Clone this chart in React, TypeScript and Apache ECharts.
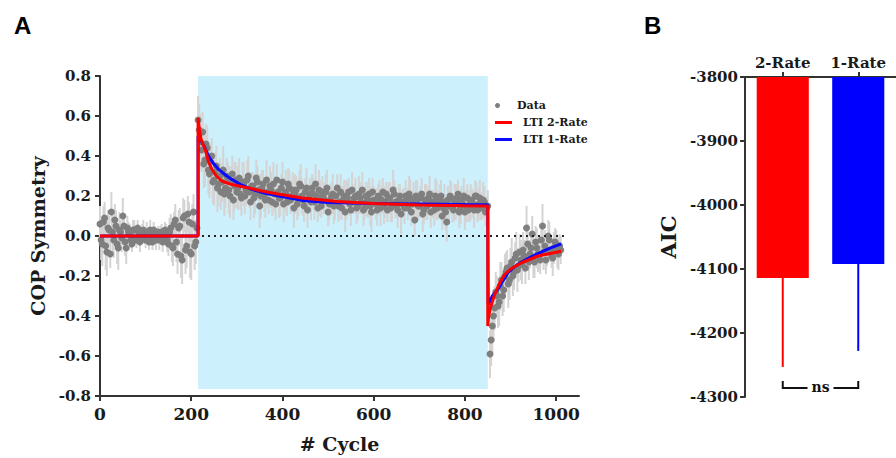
import React, { useEffect, useRef } from 'react';
import * as echarts from 'echarts';

// ---------------- Panel A data ----------------
const CYCLE_STEP = 5;
const HALF_STEP = 2.5;

const BASELINE_START = 0;
const BASELINE_VALUES = [
  0.06, -0.04, 0.09, -0.08, 0.03, 0.12, -0.02, 0.05, -0.06, 0.02,
  0.10, -0.03, 0.04, 0.01, -0.04, 0.03, -0.02, 0.02, 0.00, 0.03,
  -0.02, 0.01, 0.03, -0.03, 0.02, 0.00, -0.02, 0.02, -0.01, 0.01,
  -0.04, 0.04, -0.06, 0.08, -0.09, 0.05, -0.12, 0.10, -0.05, 0.07,
  -0.09, 0.12, -0.03,
];
const BASELINE_ERR = [
  0.09, 0.11, 0.08, 0.12, 0.07, 0.10, 0.09, 0.08, 0.11, 0.06,
  0.09, 0.07, 0.06, 0.05, 0.04, 0.05, 0.04, 0.03, 0.04, 0.05,
  0.04, 0.03, 0.05, 0.04, 0.03, 0.04, 0.05, 0.04, 0.03, 0.05,
  0.06, 0.07, 0.09, 0.08, 0.10, 0.09, 0.12, 0.08, 0.11, 0.10,
  0.13, 0.09, 0.11,
];
// interleaved cycles (start + 2.5)
const BASELINE_VALUES_B = [
  -0.02, 0.07, -0.05, 0.04, -0.09, 0.02, 0.08, -0.04, 0.03, -0.01,
  0.05, -0.06, 0.02, -0.02, 0.03, -0.01, 0.04, -0.03, 0.02, -0.01,
  0.02, -0.03, 0.00, 0.03, -0.02, 0.02, 0.01, -0.03, 0.03, -0.02,
  0.02, -0.05, 0.06, -0.03, 0.04, -0.10, 0.09, -0.07, 0.11, -0.08,
  0.06, -0.05, 0.04,
];
const BASELINE_ERR_B = [
  0.10, 0.08, 0.12, 0.09, 0.07, 0.11, 0.08, 0.10, 0.09, 0.07,
  0.06, 0.08, 0.05, 0.04, 0.05, 0.03, 0.04, 0.05, 0.04, 0.03,
  0.05, 0.04, 0.03, 0.04, 0.05, 0.03, 0.04, 0.05, 0.04, 0.06,
  0.07, 0.08, 0.06, 0.10, 0.09, 0.11, 0.10, 0.12, 0.09, 0.13,
  0.10, 0.12, 0.08,
];

const ADAPT_START = 215;
const ADAPT_VALUES = [
  0.58, 0.47, 0.52, 0.38, 0.44, 0.31, 0.40, 0.28, 0.35, 0.26,
  0.22, 0.33, 0.24, 0.29, 0.20, 0.31, 0.25, 0.22, 0.29, 0.19,
  0.26, 0.23, 0.30, 0.17, 0.25, 0.21, 0.27, 0.15, 0.24, 0.20,
  0.28, 0.18, 0.23, 0.26, 0.16, 0.22, 0.19, 0.27, 0.21, 0.17,
  0.24, 0.20, 0.14, 0.23, 0.19, 0.25, 0.18, 0.22, 0.13, 0.21,
  0.24, 0.17, 0.20, 0.23, 0.15, 0.19, 0.22, 0.12, 0.18, 0.21,
  0.16, 0.24, 0.17, 0.14, 0.20, 0.18, 0.22, 0.13, 0.17, 0.20,
  0.15, 0.19, 0.23, 0.14, 0.17, 0.21, 0.12, 0.18, 0.16, 0.20,
  0.14, 0.22, 0.17, 0.13, 0.19, 0.16, 0.21, 0.15, 0.18, 0.11,
  0.17, 0.20, 0.14, 0.19, 0.16, 0.08, 0.18, 0.15, 0.21, 0.13,
  0.17, 0.19, 0.12, 0.16, 0.20, 0.14, 0.18, 0.10, 0.17, 0.07,
  0.15, 0.19, 0.13, 0.17, 0.21, 0.14, 0.16, 0.12, 0.19, 0.15,
  0.18, 0.13, 0.20, 0.16, 0.14, 0.18, 0.12, 0.15,
];
const ADAPT_ERR = [
  0.12, 0.14, 0.10, 0.13, 0.11, 0.12, 0.09, 0.13, 0.10, 0.11,
  0.09, 0.12, 0.10, 0.08, 0.11, 0.09, 0.12, 0.08, 0.10, 0.09,
  0.11, 0.08, 0.10, 0.09, 0.07, 0.10, 0.08, 0.11, 0.09, 0.08,
  0.10, 0.07, 0.09, 0.11, 0.08, 0.07, 0.09, 0.10, 0.08, 0.07,
  0.09, 0.08, 0.10, 0.07, 0.09, 0.11, 0.08, 0.07, 0.09, 0.08,
  0.07, 0.09, 0.08, 0.10, 0.06, 0.08, 0.09, 0.07, 0.08, 0.10,
  0.08, 0.07, 0.09, 0.06, 0.08, 0.10, 0.07, 0.08, 0.06, 0.09,
  0.07, 0.08, 0.09, 0.06, 0.07, 0.08, 0.10, 0.07, 0.08, 0.06,
  0.09, 0.07, 0.08, 0.06, 0.08, 0.09, 0.07, 0.06, 0.08, 0.10,
  0.07, 0.08, 0.06, 0.09, 0.07, 0.08, 0.10, 0.06, 0.08, 0.07,
  0.09, 0.06, 0.08, 0.07, 0.09, 0.06, 0.08, 0.07, 0.09, 0.10,
  0.07, 0.08, 0.06, 0.09, 0.07, 0.08, 0.06, 0.09, 0.07, 0.08,
  0.06, 0.09, 0.07, 0.08, 0.06, 0.09, 0.07, 0.08,
];
const ADAPT_VALUES_B = [
  0.53, 0.43, 0.36, 0.46, 0.33, 0.37, 0.27, 0.32, 0.24, 0.30,
  0.27, 0.21, 0.30, 0.23, 0.27, 0.18, 0.28, 0.24, 0.21, 0.27,
  0.20, 0.28, 0.22, 0.25, 0.19, 0.29, 0.23, 0.20, 0.26, 0.18,
  0.22, 0.25, 0.17, 0.21, 0.28, 0.19, 0.24, 0.16, 0.22, 0.26,
  0.18, 0.23, 0.21, 0.16, 0.26, 0.20, 0.15, 0.24, 0.19, 0.17,
  0.21, 0.26, 0.14, 0.19, 0.22, 0.18, 0.24, 0.16, 0.20, 0.15,
  0.20, 0.15, 0.22, 0.18, 0.12, 0.19, 0.16, 0.23, 0.19, 0.14,
  0.21, 0.17, 0.13, 0.20, 0.18, 0.15, 0.22, 0.17, 0.13, 0.19,
  0.18, 0.15, 0.21, 0.19, 0.14, 0.23, 0.17, 0.13, 0.20, 0.16,
  0.14, 0.18, 0.21, 0.12, 0.17, 0.20, 0.15, 0.19, 0.11, 0.18,
  0.15, 0.21, 0.17, 0.13, 0.18, 0.16, 0.20, 0.14, 0.12, 0.18,
  0.20, 0.14, 0.17, 0.19, 0.12, 0.18, 0.20, 0.15, 0.13, 0.17,
  0.16, 0.20, 0.13, 0.19, 0.15, 0.17, 0.14,
];
const ADAPT_ERR_B = [
  0.13, 0.11, 0.12, 0.10, 0.12, 0.09, 0.11, 0.10, 0.12, 0.09,
  0.10, 0.11, 0.09, 0.12, 0.08, 0.10, 0.09, 0.11, 0.08, 0.10,
  0.09, 0.10, 0.08, 0.07, 0.10, 0.09, 0.08, 0.11, 0.07, 0.09,
  0.08, 0.10, 0.07, 0.09, 0.08, 0.10, 0.07, 0.09, 0.11, 0.08,
  0.07, 0.09, 0.10, 0.08, 0.07, 0.09, 0.08, 0.10, 0.07, 0.09,
  0.08, 0.10, 0.07, 0.09, 0.08, 0.06, 0.09, 0.08, 0.07, 0.09,
  0.06, 0.08, 0.09, 0.07, 0.10, 0.08, 0.06, 0.09, 0.07, 0.08,
  0.09, 0.06, 0.08, 0.07, 0.09, 0.10, 0.07, 0.06, 0.08, 0.09,
  0.07, 0.09, 0.06, 0.08, 0.07, 0.10, 0.08, 0.09, 0.06, 0.07,
  0.08, 0.06, 0.09, 0.07, 0.10, 0.08, 0.07, 0.06, 0.09, 0.08,
  0.07, 0.09, 0.06, 0.08, 0.10, 0.07, 0.08, 0.06, 0.09, 0.07,
  0.08, 0.07, 0.09, 0.06, 0.08, 0.07, 0.09, 0.08, 0.06, 0.09,
  0.07, 0.08, 0.06, 0.09, 0.07, 0.08, 0.06,
];

const POST_START = 855;
const POST_VALUES = [
  -0.59, -0.45, -0.36, -0.30, -0.33, -0.22, -0.27, -0.18, -0.24, -0.15,
  -0.20, -0.11, -0.17, -0.08, -0.14, -0.10, 0.04, -0.13, -0.06, -0.11,
  -0.03, -0.09, -0.12, 0.05, -0.05, -0.08, -0.02, -0.10, -0.06, -0.04,
  -0.09, -0.07,
];
const POST_ERR = [
  0.12, 0.13, 0.11, 0.10, 0.12, 0.09, 0.11, 0.10, 0.12, 0.09,
  0.10, 0.08, 0.11, 0.09, 0.10, 0.08, 0.11, 0.09, 0.07, 0.10,
  0.08, 0.09, 0.07, 0.11, 0.08, 0.07, 0.09, 0.06, 0.08, 0.07,
  0.08, 0.07,
];
const POST_VALUES_B = [
  -0.52, -0.40, -0.28, -0.35, -0.25, -0.30, -0.20, -0.16, -0.22, -0.13,
  -0.18, -0.09, -0.15, -0.12, -0.07, -0.16, -0.04, -0.09, 0.01, -0.13,
  -0.06, -0.10, -0.02, -0.08, -0.12, 0.00, -0.07, -0.11, -0.03, -0.08,
  -0.05,
];
const POST_ERR_B = [
  0.13, 0.12, 0.10, 0.11, 0.12, 0.10, 0.11, 0.09, 0.10, 0.12,
  0.09, 0.11, 0.08, 0.10, 0.09, 0.08, 0.10, 0.07, 0.09, 0.08,
  0.10, 0.07, 0.08, 0.09, 0.07, 0.08, 0.06, 0.09, 0.07, 0.08,
  0.06,
];

// Model fits: [cycle, COP symmetry]
const FIT_2RATE: [number, number][] = [
  [0, 0], [215, 0], [215, 0.59], [218, 0.53], [222, 0.48], [231, 0.43], [238, 0.37],
  [245, 0.335], [255, 0.30], [267, 0.275], [285, 0.26], [304, 0.25], [330, 0.238],
  [355, 0.225], [390, 0.21], [443, 0.19], [520, 0.172], [600, 0.162], [700, 0.155],
  [800, 0.151], [850, 0.15], [850, -0.45], [852, -0.40], [857, -0.35], [864, -0.30],
  [875, -0.24], [886, -0.195], [900, -0.165], [923, -0.135], [960, -0.10], [1011, -0.076],
];
const FIT_1RATE: [number, number][] = [
  [0, 0], [215, 0], [215, 0.50], [218, 0.49], [228, 0.45], [238, 0.40], [248, 0.365],
  [260, 0.333], [275, 0.305], [289, 0.283], [310, 0.255], [333, 0.233], [360, 0.215],
  [392, 0.20], [443, 0.178], [500, 0.168], [600, 0.163], [700, 0.160], [800, 0.157],
  [850, 0.156], [851, -0.343], [860, -0.30], [872, -0.268], [883, -0.225], [894, -0.185],
  [908, -0.155], [923, -0.131], [940, -0.11], [960, -0.088], [985, -0.062], [1011, -0.039],
];

const PERTURB_START = 215;
const PERTURB_END = 850;
const PERTURB_BOTTOM = -0.765;
const PERTURB_TOP = 0.8;
const ZERO_LINE_END = 1025;

const X_TICKS = [0, 200, 400, 600, 800, 1000];

// ---------------- Panel B data ----------------
const AIC_MODELS = ['2-Rate', '1-Rate'];
const AIC_MEAN = [-4114, -4092];
const AIC_SD = [139, 136];
const AIC_COLORS = ['#ff0000', '#0000ff'];
const AIC_TOP = -3800;
const AIC_BOTTOM = -4300;
const NS_LEVEL = -4286;

const FONT = '"DejaVu Serif", serif';
const AXIS_COLOR = '#333333';
const TEXT_COLOR = '#1a1a1a';

function segment(start: number, values: number[], errs: number[]) {
  return values.map((v, i) => [start + i * CYCLE_STEP, v, errs[i]]);
}

const POINTS = [
  ...segment(BASELINE_START, BASELINE_VALUES, BASELINE_ERR),
  ...segment(BASELINE_START + HALF_STEP, BASELINE_VALUES_B, BASELINE_ERR_B),
  ...segment(ADAPT_START, ADAPT_VALUES, ADAPT_ERR),
  ...segment(ADAPT_START + HALF_STEP, ADAPT_VALUES_B, ADAPT_ERR_B),
  ...segment(POST_START, POST_VALUES, POST_ERR),
  ...segment(POST_START + HALF_STEP, POST_VALUES_B, POST_ERR_B),
];

export default function App() {
  const ref = useRef<HTMLDivElement>(null);

  useEffect(() => {
    if (!ref.current) return;
    const chart = echarts.init(ref.current, undefined, { renderer: 'svg' });

    const axisLine = { show: true, onZero: false, lineStyle: { color: AXIS_COLOR, width: 2 } };
    const axisTick = { show: true, length: 5, lineStyle: { color: AXIS_COLOR, width: 2 } };

    chart.setOption({
      animation: false,
      backgroundColor: '#ffffff',
      textStyle: { fontFamily: FONT },
      grid: [
        { left: 100, top: 76, width: 479, height: 320 },
        { left: 745, top: 77, width: 160, height: 320 },
      ],
      legend: [
        {
          data: [{ name: 'Data', icon: 'circle' }],
          left: 490,
          top: 95,
          itemWidth: 17,
          itemHeight: 5,
          textStyle: { fontFamily: FONT, fontWeight: 'bold', fontSize: 11, color: TEXT_COLOR, padding: [0, 0, 0, 6] },
        },
        {
          data: [
            { name: 'LTI 2-Rate', icon: 'rect' },
            { name: 'LTI 1-Rate', icon: 'rect' },
          ],
          orient: 'vertical',
          left: 490,
          top: 112,
          itemGap: 6,
          itemWidth: 17,
          itemHeight: 3,
          textStyle: { fontFamily: FONT, fontWeight: 'bold', fontSize: 11, color: TEXT_COLOR, padding: [0, 0, 0, 6] },
        },
      ],
      xAxis: [
        {
          type: 'value',
          gridIndex: 0,
          min: 0,
          max: 1050,
          interval: 200,
          axisLine,
          axisTick: { ...axisTick, customValues: X_TICKS },
          splitLine: { show: false },
          axisLabel: {
            customValues: X_TICKS,
            formatter: (v: number) => String(v),
            fontFamily: FONT,
            fontWeight: 'bold',
            fontSize: 17,
            color: TEXT_COLOR,
            margin: 9,
          },
          name: '# Cycle',
          nameLocation: 'middle',
          nameGap: 38,
          nameTextStyle: { fontFamily: FONT, fontWeight: 'bold', fontSize: 19, color: TEXT_COLOR },
        },
        {
          type: 'category',
          gridIndex: 1,
          data: AIC_MODELS,
          position: 'top',
          boundaryGap: true,
          axisLine,
          axisTick: { ...axisTick, alignWithLabel: true },
          axisLabel: { fontFamily: FONT, fontWeight: 'bold', fontSize: 15, color: TEXT_COLOR, margin: 7 },
        },
      ],
      yAxis: [
        {
          type: 'value',
          gridIndex: 0,
          min: -0.8,
          max: 0.8,
          interval: 0.2,
          axisLine,
          axisTick,
          splitLine: { show: false },
          axisLabel: {
            fontFamily: FONT,
            fontWeight: 'bold',
            fontSize: 15,
            color: TEXT_COLOR,
            margin: 9,
            formatter: (v: number) => (Math.abs(v) < 1e-9 ? '0.0' : v.toFixed(1)),
          },
          name: 'COP Symmetry',
          nameLocation: 'middle',
          nameGap: 53,
          nameTextStyle: { fontFamily: FONT, fontWeight: 'bold', fontSize: 19, color: TEXT_COLOR },
        },
        {
          type: 'value',
          gridIndex: 1,
          min: AIC_BOTTOM,
          max: AIC_TOP,
          interval: 100,
          axisLine,
          axisTick,
          splitLine: { show: false },
          axisLabel: {
            formatter: (v: number) => String(v),
            fontFamily: FONT,
            fontWeight: 'bold',
            fontSize: 15,
            color: TEXT_COLOR,
            margin: 7,
          },
          name: 'AIC',
          nameLocation: 'middle',
          nameGap: 66,
          nameTextStyle: { fontFamily: FONT, fontWeight: 'bold', fontSize: 21, color: TEXT_COLOR },
        },
      ],
      series: [
        {
          name: 'perturbation',
          type: 'line',
          xAxisIndex: 0,
          yAxisIndex: 0,
          data: [],
          z: 1,
          silent: true,
          markArea: {
            silent: true,
            itemStyle: { color: '#ccf0fc' },
            data: [[{ coord: [PERTURB_START, PERTURB_BOTTOM] }, { coord: [PERTURB_END, PERTURB_TOP] }]],
          },
        },
        {
          name: 'errorbars',
          type: 'custom',
          xAxisIndex: 0,
          yAxisIndex: 0,
          z: 2,
          silent: true,
          data: POINTS,
          renderItem: (_params: any, api: any) => {
            const x = api.value(0);
            const y = api.value(1);
            const e = api.value(2);
            const p1 = api.coord([x, y - e]);
            const p2 = api.coord([x, y + e]);
            return {
              type: 'line',
              shape: { x1: p1[0], y1: p1[1], x2: p2[0], y2: p2[1] },
              style: { stroke: '#d4d4d4', lineWidth: 2 },
            };
          },
        },
        {
          name: 'Data',
          type: 'scatter',
          xAxisIndex: 0,
          yAxisIndex: 0,
          z: 3,
          symbolSize: 7,
          itemStyle: { color: '#7f7f7f', opacity: 1 },
          data: POINTS.map((p) => [p[0], p[1]]),
        },
        {
          name: 'LTI 1-Rate',
          type: 'line',
          xAxisIndex: 0,
          yAxisIndex: 0,
          z: 4,
          symbol: 'none',
          showSymbol: false,
          lineStyle: { color: '#0a0aff', width: 3 },
          itemStyle: { color: '#0a0aff' },
          data: FIT_1RATE,
        },
        {
          name: 'LTI 2-Rate',
          type: 'line',
          xAxisIndex: 0,
          yAxisIndex: 0,
          z: 5,
          symbol: 'none',
          showSymbol: false,
          lineStyle: { color: '#ff0000', width: 3 },
          itemStyle: { color: '#ff0000' },
          data: FIT_2RATE,
        },
        {
          name: 'zero',
          type: 'line',
          xAxisIndex: 0,
          yAxisIndex: 0,
          z: 6,
          data: [],
          silent: true,
          markLine: {
            silent: true,
            symbol: 'none',
            label: { show: false },
            lineStyle: { color: '#222222', width: 2, type: [2, 4] },
            data: [[{ coord: [0, 0] }, { coord: [ZERO_LINE_END, 0] }]],
          },
        },
        {
          name: 'AIC',
          type: 'custom',
          xAxisIndex: 1,
          yAxisIndex: 1,
          data: AIC_MEAN.map((m, i) => [i, m, AIC_SD[i]]),
          renderItem: (params: any, api: any) => {
            const idx = api.value(0);
            const mean = api.value(1);
            const sd = api.value(2);
            const color = AIC_COLORS[params.dataIndex];
            const top = api.coord([idx, AIC_TOP]);
            const bottom = api.coord([idx, mean]);
            const errEnd = api.coord([idx, mean - sd]);
            const bw = api.size([1, 0])[0] * 0.69;
            return {
              type: 'group',
              children: [
                {
                  type: 'rect',
                  shape: { x: top[0] - bw / 2, y: top[1], width: bw, height: bottom[1] - top[1] },
                  style: { fill: color },
                },
                {
                  type: 'line',
                  shape: { x1: bottom[0], y1: bottom[1], x2: errEnd[0], y2: errEnd[1] },
                  style: { stroke: color, lineWidth: 2 },
                },
              ],
            };
          },
        },
      ],
    });

    // significance bracket between the two models, placed via the axes
    const pL = chart.convertToPixel({ xAxisIndex: 1, yAxisIndex: 1 }, [0, NS_LEVEL]) as number[];
    const pR = chart.convertToPixel({ xAxisIndex: 1, yAxisIndex: 1 }, [1, NS_LEVEL]) as number[];
    const yb = pL[1];
    const xm = (pL[0] + pR[0]) / 2;
    const half = 13;
    const bracketStyle = { stroke: '#111111', lineWidth: 2, fill: 'none' };

    chart.setOption({
      graphic: [
        { type: 'text', left: 14, top: 13, style: { text: 'A', font: 'bold 24px "Liberation Sans", Arial, sans-serif', fill: '#000' } },
        { type: 'text', left: 644, top: 13, style: { text: 'B', font: 'bold 24px "Liberation Sans", Arial, sans-serif', fill: '#000' } },
        {
          type: 'polyline',
          shape: { points: [[pL[0], yb - 7], [pL[0], yb], [xm - half, yb]] },
          style: bracketStyle,
        },
        {
          type: 'polyline',
          shape: { points: [[xm + half, yb], [pR[0], yb], [pR[0], yb - 7]] },
          style: bracketStyle,
        },
        {
          type: 'text',
          x: xm,
          y: yb - 1,
          style: {
            text: 'ns',
            font: `bold 14px ${FONT}`,
            fill: '#111111',
            align: 'center',
            verticalAlign: 'middle',
          },
        },
      ],
    });

    return () => chart.dispose();
  }, []);

  return <div ref={ref} style={{ position: 'fixed', left: 0, top: 0, width: 896, height: 458 }} />;
}
